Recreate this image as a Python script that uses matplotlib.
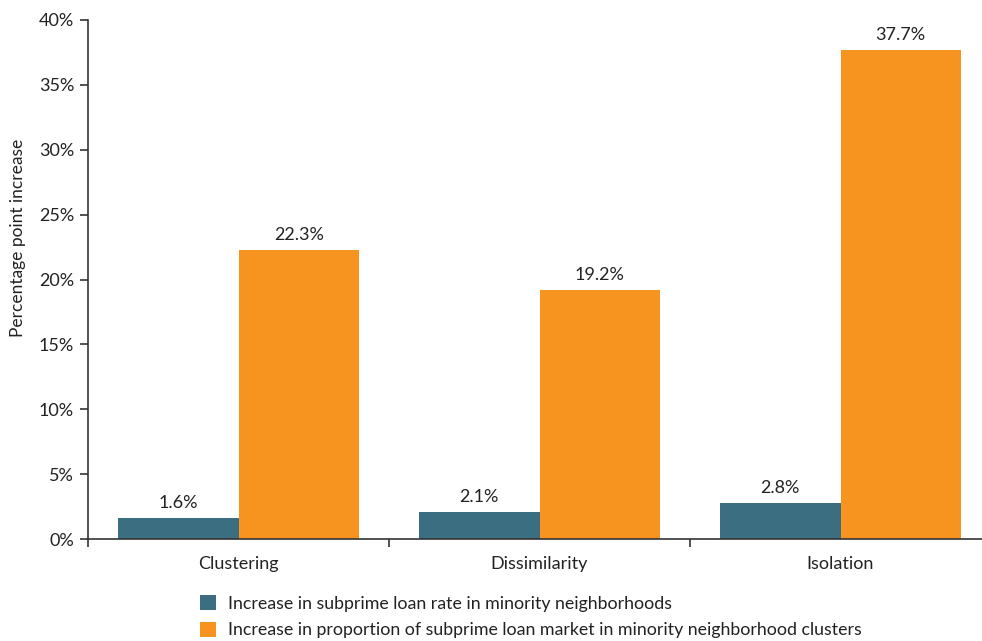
import numpy as np
import matplotlib
matplotlib.use("Agg")
import matplotlib.pyplot as plt
from matplotlib.ticker import FixedLocator, FuncFormatter

categories = ["Clustering", "Dissimilarity", "Isolation"]
rate_increase = [1.6, 2.1, 2.8]
market_increase = [22.3, 19.2, 37.7]
series_labels = [
    "Increase in subprime loan rate in minority neighborhoods",
    "Increase in proportion of subprime loan market in minority neighborhood clusters",
]
y_ticks = [0, 5, 10, 15, 20, 25, 30, 35, 40]

BLUE = "#3c6e81"
ORANGE = "#f7941f"
TEXT = "#222222"

plt.rcParams["font.family"] = ["Lato", "DejaVu Sans"]

fig = plt.figure(figsize=(9.82, 6.41), dpi=100)
ax = fig.add_axes([88 / 982, 1 - 539 / 641, 903 / 982, 519 / 641])

x = np.arange(len(categories))
width = 0.4
b1 = ax.bar(x - width / 2, rate_increase, width, color=BLUE, label=series_labels[0])
b2 = ax.bar(x + width / 2, market_increase, width, color=ORANGE, label=series_labels[1])

for bars in (b1, b2):
    for rect in bars:
        h = rect.get_height()
        ax.annotate(f"{h:.1f}%", (rect.get_x() + rect.get_width() / 2, h),
                    xytext=(0, 5), textcoords="offset points",
                    ha="center", va="bottom", fontsize=13, color=TEXT)

ax.set_xlim(-0.5, len(categories) - 0.5)
ax.set_ylim(0, 40)
ax.set_yticks(y_ticks)
ax.yaxis.set_major_formatter(FuncFormatter(lambda v, _: f"{v:.0f}%"))
ax.set_ylabel("Percentage point increase", fontsize=12.5, color=TEXT)
ax.yaxis.set_label_coords(-0.069, 0.58)

ax.set_xticks(x)
ax.set_xticklabels(categories)
ax.xaxis.set_minor_locator(FixedLocator(np.arange(len(categories) + 1) - 0.5))
ax.tick_params(axis="x", which="major", length=0, pad=12, labelsize=13, labelcolor=TEXT)
ax.tick_params(axis="x", which="minor", length=6, width=1.2, color="#333333")
ax.tick_params(axis="y", length=6, width=1.2, color="#333333", labelsize=13,
               labelcolor=TEXT, pad=4)

for side in ("top", "right"):
    ax.spines[side].set_visible(False)
for side in ("left", "bottom"):
    ax.spines[side].set_linewidth(1.2)
    ax.spines[side].set_color("#333333")

fig.legend(handles=[b1, b2], loc="upper left", bbox_to_anchor=(184 / 982, 1 - 579 / 641),
           frameon=False, fontsize=12.8, handlelength=0.9, handleheight=0.9,
           handletextpad=0.7, labelspacing=0.58, labelcolor=TEXT)

fig.savefig("out.png", dpi=100)
